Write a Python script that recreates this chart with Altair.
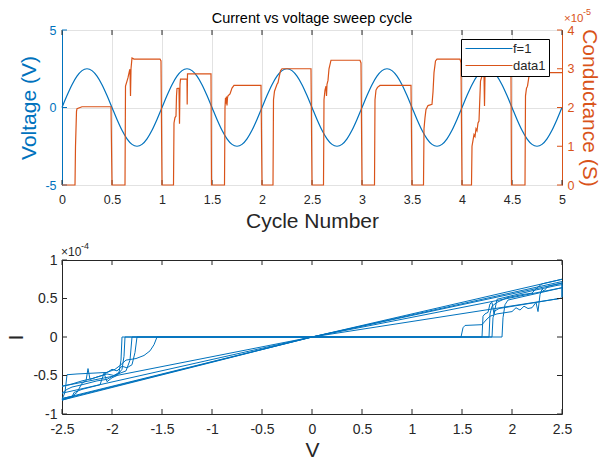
import altair as alt
import pandas as pd

BLUE = "#0072BD"
ORANGE = "#D95319"
DARK = "#262626"
GRID = "#E2E2E2"
FONT = "Liberation Sans"

# ---------------- top panel data ----------------
volt_t = [i / 20 for i in range(101)]
volt_v = [
    0.0, 0.77, 1.47, 2.02, 2.38, 2.5, 2.38, 2.02, 1.47, 0.77,
    0.0, -0.77, -1.47, -2.02, -2.38, -2.5, -2.38, -2.02, -1.47, -0.77,
    0.0, 0.77, 1.47, 2.02, 2.38, 2.5, 2.38, 2.02, 1.47, 0.77,
    0.0, -0.77, -1.47, -2.02, -2.38, -2.5, -2.38, -2.02, -1.47, -0.77,
    0.0, 0.77, 1.47, 2.02, 2.38, 2.5, 2.38, 2.02, 1.47, 0.77,
    0.0, -0.77, -1.47, -2.02, -2.38, -2.5, -2.38, -2.02, -1.47, -0.77,
    0.0, 0.77, 1.47, 2.02, 2.38, 2.5, 2.38, 2.02, 1.47, 0.77,
    0.0, -0.77, -1.47, -2.02, -2.38, -2.5, -2.38, -2.02, -1.47, -0.77,
    0.0, 0.77, 1.47, 2.02, 2.38, 2.5, 2.38, 2.02, 1.47, 0.77,
    0.0, -0.77, -1.47, -2.02, -2.38, -2.5, -2.38, -2.02, -1.47, -0.77,
    0.0,
]

# conductance trace, units of 1e-5 S
cond_t = [
    0.0, 0.13, 0.135, 0.145, 0.15, 0.2, 0.49, 0.5,
    0.63, 0.635, 0.65, 0.66, 0.675, 0.68, 0.685, 0.69, 0.70, 0.72, 0.98, 0.99, 1.0,
    1.115, 1.12, 1.13, 1.14, 1.145, 1.15, 1.17, 1.175, 1.18, 1.185, 1.195, 1.25, 1.252, 1.255, 1.26, 1.49, 1.495,
    1.625, 1.63, 1.635, 1.64, 1.645, 1.65, 1.655, 1.66, 1.68, 1.70, 1.72, 1.99, 2.0,
    2.11, 2.115, 2.125, 2.15, 2.16, 2.185, 2.2, 2.49, 2.5,
    2.615, 2.62, 2.63, 2.64, 2.645, 2.65, 2.66, 2.67, 2.69, 2.98, 2.99, 3.0,
    3.125, 3.13, 3.14, 3.155, 3.18, 3.49, 3.5,
    3.615, 3.62, 3.63, 3.64, 3.65, 3.66, 3.70, 3.71, 3.72, 3.735, 3.75, 3.98, 3.99, 4.0,
    4.095, 4.10, 4.11, 4.12, 4.13, 4.14, 4.15, 4.16, 4.17, 4.175, 4.185, 4.20, 4.22, 4.225, 4.23, 4.49, 4.495,
    4.63, 4.635, 4.645, 4.655, 4.67, 4.68, 5.0,
]
cond_g = [
    0, 0, 1.0, 1.9, 1.97, 2.02, 2.02, 0,
    0, 2.55, 2.68, 2.77, 2.95, 2.99, 2.3, 3.0, 3.28, 3.25, 3.25, 3.2, 0,
    0, 1.6, 1.74, 1.78, 2.3, 2.49, 2.5, 1.58, 2.6, 2.73, 2.73, 2.73, 2.08, 2.87, 2.87, 2.87, 0,
    0, 2.0, 2.25, 2.1, 2.28, 2.05, 2.25, 2.3, 2.35, 2.5, 2.57, 2.57, 0,
    0, 2.2, 2.42, 2.6, 2.64, 2.95, 3.0, 3.0, 0,
    0, 2.2, 2.45, 2.55, 2.3, 2.6, 2.7, 3.0, 3.22, 3.22, 3.15, 0,
    0, 2.2, 2.45, 2.52, 2.57, 2.57, 0,
    0, 1.45, 1.74, 1.95, 2.0, 2.05, 2.08, 2.4, 2.9, 3.2, 3.25, 3.25, 3.15, 0,
    0, 1.0, 1.15, 1.3, 1.25, 1.45, 1.4, 1.6, 1.65, 2.0, 2.68, 2.81, 2.81, 2.04, 2.81, 2.81, 0,
    0, 2.3, 2.5, 2.55, 2.81, 2.9, 2.9,
]
assert len(cond_t) == len(cond_g)

series_names = ["f=1", "data1"]

top_x_ticks = [0, 0.5, 1, 1.5, 2, 2.5, 3, 3.5, 4, 4.5, 5]
volt_ticks = [-5, 0, 5]
cond_ticks = [0, 1, 2, 3, 4]

# ---------------- bottom panel data (V, I x1e-4) ----------------
loop_p1 = [(0, 0), (1.80, 0), (1.81, 0.25), (1.83, 0.34), (1.87, 0.37), (2.5, 0.505), (0, 0)]
loop_p2 = [(0, 0), (1.70, 0), (1.71, 0.27), (1.73, 0.30), (1.76, 0.32), (1.78, 0.43), (1.80, 0.45),
           (1.82, 0.30), (1.85, 0.49), (2.2, 0.60), (2.45, 0.67), (2.5, 0.68), (2.5, 0.52),
           (2.5, 0.72), (0, 0)]
loop_p3 = [(0, 0), (1.77, 0), (1.78, 0.30), (1.80, 0.40), (1.85, 0.45), (1.95, 0.51), (2.1, 0.55),
           (2.2, 0.57), (2.25, 0.64), (2.3, 0.69), (2.5, 0.75), (0, 0)]
loop_p4 = [(0, 0), (1.90, 0), (1.91, 0.25), (1.93, 0.42), (1.96, 0.48), (2.5, 0.64), (0, 0)]
loop_p5 = [(0, 0), (1.49, 0), (1.51, 0.12), (1.53, 0.15), (1.70, 0.16), (1.74, 0.22), (1.78, 0.27),
           (1.85, 0.30), (1.95, 0.32), (2.0, 0.33), (2.04, 0.38), (2.08, 0.35), (2.12, 0.40),
           (2.16, 0.37), (2.2, 0.38), (2.24, 0.45), (2.26, 0.33), (2.28, 0.55), (2.3, 0.62),
           (2.32, 0.60), (2.36, 0.66), (2.5, 0.70), (0, 0)]
loop_n1 = [(0, 0), (-1.87, 0), (-1.88, -0.25), (-1.90, -0.42), (-1.95, -0.50), (-2.0, -0.53),
           (-2.05, -0.58), (-2.08, -0.47), (-2.12, -0.62), (-2.3, -0.68), (-2.38, -0.72),
           (-2.40, -0.78), (-2.5, -0.82), (0, 0)]
loop_n2 = [(0, 0), (-1.75, 0), (-1.77, -0.20), (-1.80, -0.36), (-1.85, -0.40), (-1.90, -0.38),
           (-1.95, -0.44), (-2.0, -0.42), (-2.1, -0.50), (-2.2, -0.54), (-2.3, -0.57),
           (-2.4, -0.61), (-2.5, -0.64), (0, 0)]
loop_n3 = [(0, 0), (-1.80, 0), (-1.82, -0.30), (-1.86, -0.44), (-1.92, -0.47), (-1.98, -0.50),
           (-2.05, -0.48), (-2.15, -0.52), (-2.22, -0.55), (-2.24, -0.41), (-2.26, -0.57),
           (-2.3, -0.60), (-2.35, -0.72), (-2.4, -0.77), (-2.5, -0.80), (0, 0)]
loop_n4 = [(0, 0), (-1.55, 0), (-1.58, -0.10), (-1.62, -0.18), (-1.68, -0.24), (-1.76, -0.28),
           (-1.86, -0.30), (-1.92, -0.37), (-1.97, -0.42), (-2.05, -0.46), (-2.2, -0.47),
           (-2.35, -0.48), (-2.45, -0.49), (-2.47, -0.72), (-2.5, -0.81), (0, 0)]
loop_n5 = [(0, 0), (-1.90, 0), (-1.91, -0.30), (-1.93, -0.46), (-1.98, -0.50), (-2.05, -0.55),
           (-2.15, -0.57), (-2.3, -0.62), (-2.4, -0.65), (-2.45, -0.68), (-2.5, -0.73), (0, 0)]

iv_loops = [("p1", loop_p1), ("n1", loop_n1), ("p2", loop_p2), ("n2", loop_n2), ("p3", loop_p3),
            ("n3", loop_n3), ("p4", loop_p4), ("n4", loop_n4), ("p5", loop_p5), ("n5", loop_n5)]

bot_x_ticks = [-2.5, -2, -1.5, -1, -0.5, 0, 0.5, 1, 1.5, 2, 2.5]
bot_y_ticks = [-1, -0.5, 0, 0.5, 1]

# ---------------- frames ----------------
df_volt = pd.DataFrame({"t": volt_t, "v": volt_v, "series": series_names[0]})
df_cond = pd.DataFrame({"t": cond_t, "g": cond_g, "series": series_names[1],
                        "idx": list(range(len(cond_t)))})
rows = []
for name, pts in iv_loops:
    for k, (vv, ii) in enumerate(pts):
        rows.append({"loop": name, "idx": k, "V": vv, "I": ii})
df_iv = pd.DataFrame(rows)

W, H1, H2 = 500, 155, 154
TL = 5  # inward tick length

x_top_scale = alt.Scale(domain=[0, 5], nice=False, zero=False)
yv_scale = alt.Scale(domain=[-5, 5], nice=False, zero=False)
yg_scale = alt.Scale(domain=[0, 4], nice=False, zero=False)
x_bot_scale = alt.Scale(domain=[-2.5, 2.5], nice=False, zero=False)
y_bot_scale = alt.Scale(domain=[-1, 1], nice=False, zero=False)

LBL = "'' + datum.value"

color_enc = alt.Color(
    "series:N",
    scale=alt.Scale(domain=series_names, range=[BLUE, ORANGE]),
    legend=alt.Legend(
        title=None, orient="none", legendX=399, legendY=9, direction="vertical",
        symbolType="M-1,0L8.4,0", symbolSize=100, symbolStrokeWidth=1.2,
        labelFontSize=13, labelColor=DARK, labelFont=FONT, labelOffset=36,
        fillColor="white", strokeColor="black", padding=3, rowPadding=3,
    ),
)

x_top_axis = alt.Axis(
    values=top_x_ticks, labelExpr=LBL, labelFlush=False, labelFontSize=12.5, labelColor=DARK,
    labelPadding=8, title="Cycle Number", titleFontSize=21, titleFontWeight="normal",
    titleColor=DARK, titlePadding=5, grid=True, gridColor=GRID, domain=False,
    ticks=False, tickSize=0,
)
yv_axis = alt.Axis(
    values=volt_ticks, labelExpr=LBL, labelFontSize=12.5, labelColor=BLUE, labelPadding=6,
    title="Voltage (V)", titleFontSize=21, titleFontWeight="normal", titleColor=BLUE,
    titlePadding=5, grid=True, gridColor=GRID, domain=True, domainColor=BLUE,
    ticks=False, tickSize=0, orient="left")
yg_axis = alt.Axis(
    values=cond_ticks, labelExpr=LBL, labelFontSize=12.5, labelColor=ORANGE, labelPadding=5,
    title="Conductance (S)", titleFontSize=21, titleFontWeight="normal", titleColor=ORANGE,
    titlePadding=5, grid=False, domain=True, domainColor=ORANGE, ticks=False, tickSize=0,
    orient="right")

volt_line = alt.Chart(df_volt).mark_line(strokeWidth=1.2, interpolate="monotone").encode(
    x=alt.X("t:Q", scale=x_top_scale, axis=x_top_axis),
    y=alt.Y("v:Q", scale=yv_scale, axis=yv_axis),
    color=color_enc,
)

df_xt_top = pd.DataFrame({"t": top_x_ticks})
xt_top_b = alt.Chart(df_xt_top).mark_rule(color=DARK, strokeWidth=1).encode(
    x=alt.X("t:Q", scale=x_top_scale, axis=x_top_axis), y=alt.value(H1), y2=alt.value(H1 - TL))
xt_top_t = alt.Chart(df_xt_top).mark_rule(color=DARK, strokeWidth=1).encode(
    x=alt.X("t:Q", scale=x_top_scale, axis=x_top_axis), y=alt.value(0), y2=alt.value(TL))
yt_volt = alt.Chart(pd.DataFrame({"v": volt_ticks})).mark_rule(color=BLUE, strokeWidth=1).encode(
    y=alt.Y("v:Q", scale=yv_scale, axis=yv_axis), x=alt.value(0), x2=alt.value(TL))

cond_line = alt.Chart(df_cond).mark_line(strokeWidth=1.2).encode(
    x=alt.X("t:Q", scale=x_top_scale, axis=x_top_axis),
    y=alt.Y("g:Q", scale=yg_scale, axis=yg_axis),
    order=alt.Order("idx:Q"),
    color=color_enc,
)
yt_cond = alt.Chart(pd.DataFrame({"g": cond_ticks})).mark_rule(color=ORANGE, strokeWidth=1).encode(
    y=alt.Y("g:Q", scale=yg_scale, axis=yg_axis), x=alt.value(W), x2=alt.value(W - TL))

exp5_base = alt.Chart(pd.DataFrame({"s": ["×10"]})).mark_text(
    align="left", baseline="alphabetic", fontSize=11.5, color=ORANGE, font=FONT
).encode(x=alt.value(W + 2), y=alt.value(-8), text="s:N")
exp5_pow = alt.Chart(pd.DataFrame({"s": ["-5"]})).mark_text(
    align="left", baseline="alphabetic", fontSize=9, color=ORANGE, font=FONT
).encode(x=alt.value(W + 21), y=alt.value(-15), text="s:N")

layer_left = alt.layer(volt_line, xt_top_b, xt_top_t, yt_volt)
layer_right = alt.layer(cond_line, yt_cond, exp5_base, exp5_pow)

top = alt.layer(layer_left, layer_right).resolve_scale(y="independent").properties(
    width=W, height=H1,
    title=alt.TitleParams("Current vs voltage sweep cycle", fontSize=14.5, fontWeight="normal",
                          color="black", font=FONT, offset=-18, frame="group", anchor="middle"),
)

# ---------------- bottom panel ----------------
xb_axis = alt.Axis(
    values=bot_x_ticks, labelExpr=LBL, labelFlush=False, labelFontSize=14, labelColor=DARK,
    labelPadding=8, title="V", titleFontSize=21, titleFontWeight="normal", titleColor=DARK,
    titlePadding=3, grid=False, domain=False, ticks=False, tickSize=0)
yb_axis = alt.Axis(
    values=bot_y_ticks, labelExpr=LBL, labelFontSize=14, labelColor=DARK, labelPadding=5,
    title="I", titleFontSize=21, titleFontWeight="normal", titleColor=DARK, titlePadding=6,
    grid=False, domain=False, ticks=False, tickSize=0)

iv_line = alt.Chart(df_iv).mark_line(color=BLUE, strokeWidth=1).encode(
    x=alt.X("V:Q", scale=x_bot_scale, axis=xb_axis),
    y=alt.Y("I:Q", scale=y_bot_scale, axis=yb_axis),
    detail="loop:N",
    order=alt.Order("idx:Q"),
)

df_xt_bot = pd.DataFrame({"V": bot_x_ticks})
df_yt_bot = pd.DataFrame({"I": bot_y_ticks})
xt_bot_b = alt.Chart(df_xt_bot).mark_rule(color=DARK, strokeWidth=1).encode(
    x=alt.X("V:Q", scale=x_bot_scale, axis=xb_axis), y=alt.value(H2), y2=alt.value(H2 - TL))
xt_bot_t = alt.Chart(df_xt_bot).mark_rule(color=DARK, strokeWidth=1).encode(
    x=alt.X("V:Q", scale=x_bot_scale, axis=xb_axis), y=alt.value(0), y2=alt.value(TL))
yt_bot_l = alt.Chart(df_yt_bot).mark_rule(color=DARK, strokeWidth=1).encode(
    y=alt.Y("I:Q", scale=y_bot_scale, axis=yb_axis), x=alt.value(0), x2=alt.value(TL))
yt_bot_r = alt.Chart(df_yt_bot).mark_rule(color=DARK, strokeWidth=1).encode(
    y=alt.Y("I:Q", scale=y_bot_scale, axis=yb_axis), x=alt.value(W), x2=alt.value(W - TL))

exp4_base = alt.Chart(pd.DataFrame({"s": ["×10"]})).mark_text(
    align="left", baseline="alphabetic", fontSize=12, color=DARK, font=FONT
).encode(x=alt.value(-1), y=alt.value(-4), text="s:N")
exp4_pow = alt.Chart(pd.DataFrame({"s": ["-4"]})).mark_text(
    align="left", baseline="alphabetic", fontSize=9, color=DARK, font=FONT
).encode(x=alt.value(19), y=alt.value(-11), text="s:N")

bottom = alt.layer(iv_line, xt_bot_b, xt_bot_t, yt_bot_l, yt_bot_r, exp4_base, exp4_pow).properties(
    width=W, height=H2)

chart = alt.vconcat(top, bottom, spacing=75, bounds="flush").properties(
    padding={"left": 5, "top": 7, "right": 0, "bottom": 0},
    background="white",
).configure(font=FONT).configure_view(stroke=DARK, strokeWidth=1).configure_axis(
    labelFont=FONT, titleFont=FONT)

chart.save("out.html", embed_options={"renderer": "svg", "actions": False})
